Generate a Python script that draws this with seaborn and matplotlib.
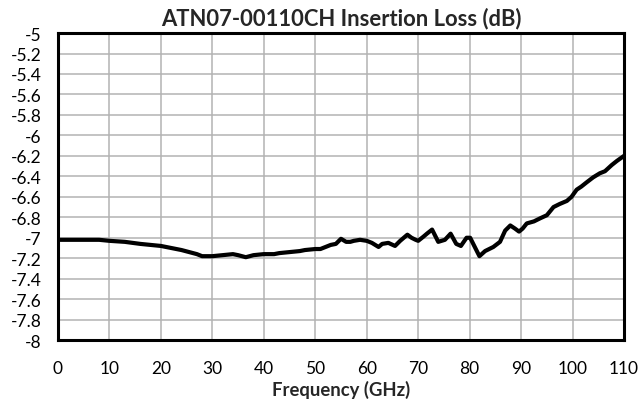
import numpy as np
import pandas as pd
import matplotlib
matplotlib.use("Agg")
import matplotlib.pyplot as plt
import seaborn as sns

# ── 데이터 ──────────────────────────────────────────────────────────
freq_ghz = [0, 2, 5, 8, 10, 13, 16, 20, 24, 27, 28, 30, 32, 34, 35, 36.5, 38, 40,
            42, 43, 45, 47, 48, 50, 51, 52, 53, 54, 55, 56, 56.8, 57.5, 58.7,
            60, 61, 62.3, 63, 64.2, 65.5, 66.5, 67.9, 68.7, 69.5, 70, 71, 71.7,
            72.7, 73.3, 73.9, 75.2, 76.3, 77.4, 78.3, 79.4, 80.1, 81, 81.9, 83,
            84.6, 85.9, 86.9, 87.9, 88.8, 89.6, 90.3, 91.1, 92.5, 93.7, 95,
            96.3, 97.5, 98.9, 99.8, 100.8, 101.7, 102.7, 104, 105.3, 106.3,
            107.6, 108.6, 110]
loss_db = [-7.02, -7.02, -7.02, -7.02, -7.03, -7.04, -7.06, -7.08, -7.12, -7.16,
           -7.18, -7.18, -7.17, -7.16, -7.17, -7.19, -7.17, -7.16,
           -7.16, -7.15, -7.14, -7.13, -7.12, -7.11, -7.11, -7.09, -7.07, -7.06,
           -7.01, -7.04, -7.04, -7.03, -7.02,
           -7.03, -7.05, -7.09, -7.06, -7.05, -7.08, -7.03, -6.97, -7.0, -7.02,
           -7.03, -6.99, -6.96,
           -6.92, -6.98, -7.04, -7.02, -6.96, -7.06, -7.08, -7.0, -7.0, -7.09,
           -7.18, -7.13,
           -7.09, -7.04, -6.93, -6.88, -6.91, -6.94, -6.91, -6.86, -6.84, -6.81, -6.78,
           -6.7, -6.67, -6.64, -6.6, -6.53, -6.5, -6.46, -6.41, -6.37, -6.35,
           -6.29, -6.25, -6.2]

x_ticks = list(range(0, 111, 10))
y_ticks = [round(-8 + 0.2 * i, 1) for i in range(16)]

df = pd.DataFrame({"freq": freq_ghz, "loss": loss_db})

sns.set_style("white")
plt.rcParams["font.family"] = ["Lato", "DejaVu Sans"]

fig = plt.figure(figsize=(6.42, 4.10), dpi=100, facecolor="white")
ax = fig.add_axes([0.0903, 0.168, 0.8817, 0.749])

sns.lineplot(data=df, x="freq", y="loss", ax=ax, color="black",
             linewidth=3.0, zorder=3)

ax.set_xlim(0, 110)
ax.set_ylim(-8, -5)
ax.set_xticks(x_ticks)
ax.set_yticks(y_ticks)
ax.set_yticklabels([f"{v:g}" for v in y_ticks])
ax.grid(True, color="#b3b3b3", linewidth=1.1, zorder=0)
ax.tick_params(length=0, labelsize=12.5, colors="black")
ax.tick_params(axis="y", pad=12)
ax.tick_params(axis="x", pad=14)
for sp in ax.spines.values():
    sp.set_color("black")
    sp.set_linewidth(2.2)
    sp.set_visible(True)

ax.set_title("ATN07-00110CH Insertion Loss (dB)", fontsize=15.8,
             fontweight="bold", pad=6)
ax.set_xlabel("Frequency (GHz)", fontsize=13.3, fontweight="bold", labelpad=3)
ax.set_ylabel("")

fig.savefig("out.png", dpi=100, facecolor="white")
